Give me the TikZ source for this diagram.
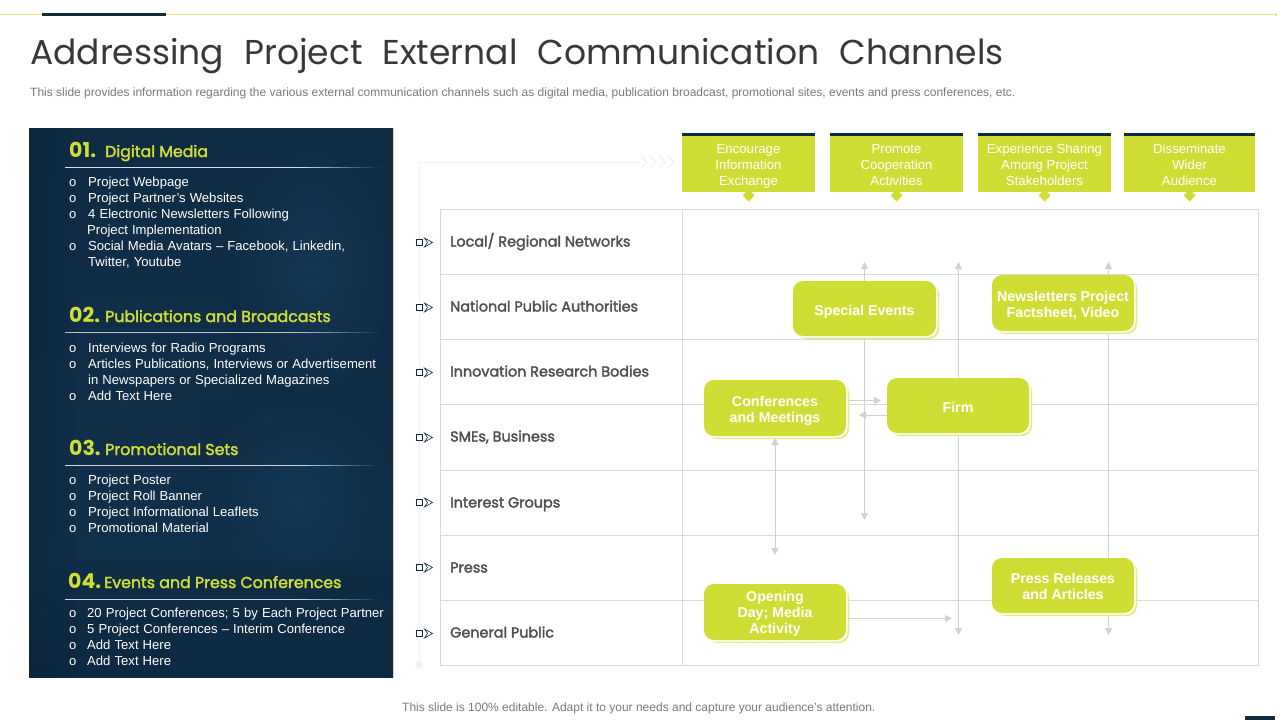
\documentclass[tikz,border=0pt]{standalone}
\usepackage{fontspec}
\setmainfont{Liberation Sans}
\newfontfamily\gothic{Poppins}
\newfontfamily\gothicm[FakeBold=2.2]{Poppins}
\usetikzlibrary{arrows.meta}
\definecolor{lime}{HTML}{D0DD35}
\definecolor{limepale}{HTML}{E6EA85}
\definecolor{navy}{HTML}{0F2B3C}
\definecolor{panelA}{HTML}{11324C}
\definecolor{panelB}{HTML}{0E2C44}
\definecolor{panelC}{HTML}{0A2238}
\definecolor{panelD}{HTML}{1B4160}
\definecolor{gridc}{HTML}{DADADA}
\definecolor{linkc}{HTML}{D2D2D2}
\definecolor{faint}{HTML}{F1F1F1}
\definecolor{labelc}{HTML}{505050}
\newcommand{\bodysp}{\spaceskip 4.1pt\relax}
\newcommand{\titlesp}{\spaceskip 20pt\relax}
\tikzset{
  x=1pt,y=-1pt,
  gridline/.style={draw=gridc,line width=1pt},
  link/.style={draw=linkc,line width=1pt,-{Triangle[length=7pt,width=7pt]}},
  linkboth/.style={draw=linkc,line width=1pt,{Triangle[length=7pt,width=7pt]}-{Triangle[length=7pt,width=7pt]}},
  headbox/.style={fill=lime,text=white,minimum height=57pt,align=center,inner sep=0pt,font=\fontsize{13.2}{16}\selectfont},
  flowbox/.style={fill=lime,text=white,rounded corners=10pt,align=center,inner sep=0pt,font=\fontsize{14.2}{16}\selectfont\bfseries},
  rowlabel/.style={anchor=base west,inner sep=0pt,text=labelc,font=\gothicm\fontsize{14.4}{16}\selectfont},
  bodyline/.style={anchor=base west,inner sep=0pt,text=white,font=\fontsize{13.1}{16}\selectfont\bodysp},
  num/.style={anchor=base west,inner sep=0pt,text=lime,font=\gothic\fontsize{20.5}{24}\selectfont\bfseries},
  sect/.style={anchor=base west,inner sep=0pt,text=lime,font=\gothicm\fontsize{15.8}{18}\selectfont},
}
\newcommand{\bodyrow}[5]{% name, bullet?, x, y, text
  \node[bodyline] (#1) at (#3,#4) {#5};
  \if#2b\node[bodyline,font=\fontsize{13}{14}\selectfont] (#1b) at (69,#4) {o};\fi}
\newcommand{\sepline}[2]{% y, opacity
  \fill[white,opacity=#2] (65,#1-.45) rectangle (300,#1+.45);
  \foreach \k in {0,...,7}{\fill[white,opacity={#2*(1-(\k+.5)/8)}] (300+\k*10,#1-.45) rectangle (310+\k*10,#1+.45);}}
\newcommand{\flowshape}[7]{% name,x0,y0,x1,y1,text,text offset
  \fill[limepale,rounded corners=10pt] (#2+3,#3+3) rectangle (#4+3,#5+3);
  \fill[white,rounded corners=10pt] (#2,#3) rectangle (#4+1.5,#5+1.5);
  \node[flowbox,minimum width=#4pt-#2pt,minimum height=#5pt-#3pt] (#1) at ({(#2+#4)/2},{(#3+#5)/2}) {};
  \node[flowbox,fill=none] (#1t) at ({(#2+#4)/2},{(#3+#5)/2+#7}) {#6};}
\newcommand{\rowmark}[2]{% name,y
  \draw[navy,line width=.8pt,fill=white] (416.5,#2-3) rectangle (422.5,#2+3);
  \draw[navy,line width=.6pt] (424.5,#2-4.5) -- (432.5,#2) -- (424.5,#2+4.5) -- (427.5,#2) -- cycle;
  \coordinate (#1) at (433,#2);}
\begin{document}
\begin{tikzpicture}
\useasboundingbox (0,0) rectangle (1280,720);
\fill[white] (0,0) rectangle (1280,720);
% top rule
\draw[limepale!80!lime,line width=1pt] (0,14.5) -- (1276,14.5);
\fill[navy] (42,13) rectangle (166,15.5);
\fill[limepale!80!lime] (1276,14.5) circle (1.6);
% title
\node[anchor=base west,inner sep=0pt,text=black!78,font=\gothic\fontsize{34.5}{38}\selectfont\titlesp] (title) at (30,64) {Addressing Project External Communication Channels};
\node[anchor=base west,inner sep=0pt,text=black!52,font=\fontsize{12}{14}\selectfont] (sub) at (30,96) {This slide provides information regarding the various external communication channels such as digital media, publication broadcast, promotional sites, events and press conferences, etc.};
% left panel
\shade[top color=panelB,bottom color=panelA] (29,128) rectangle (393,677);
\shade[left color=panelC,right color=panelB,opacity=.45] (29,128) rectangle (75,677);
\shade[inner color=panelD,outer color=panelB,opacity=.5] (230,128) rectangle (393,400);
\shade[inner color=panelD,outer color=panelB,opacity=.45] (200,400) rectangle (393,600);
\shade[top color=panelB,bottom color=panelC,opacity=.5] (29,560) rectangle (393,677);
% section 1
\node[num] (n1) at (69,157) {01.};
\node[sect] (s1) at (105,157) {Digital Media};
\sepline{167}{.85}
\bodyrow{a1}{b}{88}{186}{Project Webpage}
\bodyrow{a2}{b}{88}{202}{Project Partner's Websites}
\bodyrow{a3}{b}{88}{218}{4 Electronic Newsletters Following}
\bodyrow{a4}{n}{87}{234}{Project Implementation}
\bodyrow{a5}{b}{88}{250}{Social Media Avatars – Facebook, Linkedin,}
\bodyrow{a6}{n}{88}{266}{Twitter, Youtube}
% section 2
\node[num] (n2) at (69,322) {02.};
\node[sect] (s2) at (105,322) {Publications and Broadcasts};
\sepline{332}{.7}
\bodyrow{b1}{b}{88}{352}{Interviews for Radio Programs}
\bodyrow{b2}{b}{88}{368}{Articles Publications, Interviews or Advertisement}
\bodyrow{b3}{n}{88}{384}{in Newspapers or Specialized Magazines}
\bodyrow{b4}{b}{88}{400}{Add Text Here}
% section 3
\node[num] (n3) at (69,455) {03.};
\node[sect] (s3) at (105,455) {Promotional Sets};
\sepline{465.5}{.8}
\bodyrow{c1}{b}{88}{484}{Project Poster}
\bodyrow{c2}{b}{88}{500}{Project Roll Banner}
\bodyrow{c3}{b}{88}{516}{Project Informational Leaflets}
\bodyrow{c4}{b}{88}{532}{Promotional Material}
% section 4
\node[num] (n4) at (68,588) {04.};
\node[sect] (s4) at (104,588) {Events and Press Conferences};
\sepline{599}{.8}
\bodyrow{d1}{b}{87}{617}{20 Project Conferences; 5 by Each Project Partner}
\bodyrow{d2}{b}{87}{633}{5 Project Conferences – Interim Conference}
\bodyrow{d3}{b}{87}{649}{Add Text Here}
\bodyrow{d4}{b}{87}{665}{Add Text Here}
% faint guide
\coordinate (gs) at (640,162);
\coordinate (gc) at (419,162);
\coordinate (ge) at (419,665);
\draw[faint,line width=1pt] (gs) -- (gc) -- (ge);
\fill[faint] (ge) circle (4);
\foreach \i in {0,1,2,3}{\draw[faint,line width=1.2pt] (641+\i*9,156) -- (647+\i*9,162) -- (641+\i*9,168);}
% grid
\draw[gridline] (440.5,209.5) rectangle (1258.5,665);
\draw[gridline] (682.5,209.5) -- (682.5,665);
\foreach \y in {274.5,339.5,404.5,470,535,600}{\draw[gridline] (440.5,\y) -- (1258.5,\y);}
% row labels
\node[rowlabel] (r1) at (450,246.5) {Local/ Regional Networks};
\node[rowlabel] (r2) at (450,311.5) {National Public Authorities};
\node[rowlabel] (r3) at (450,376.5) {Innovation Research Bodies};
\node[rowlabel] (r4) at (450,441.5) {SMEs, Business};
\node[rowlabel] (r5) at (450,507.5) {Interest Groups};
\node[rowlabel] (r6) at (450,572.5) {Press};
\node[rowlabel] (r7) at (450,637.5) {General Public};
\rowmark{m1}{242.5}
\rowmark{m2}{307.5}
\rowmark{m3}{372.5}
\rowmark{m4}{437.5}
\rowmark{m5}{502.5}
\rowmark{m6}{567.5}
\rowmark{m7}{633.5}
% header boxes
\foreach \nm/\a/\b/\t in {h1/682/815/{\strut Encourage\\\strut Information\\\strut Exchange},h2/830/963/{\strut Promote\\\strut Cooperation\\\strut Activities},h3/978/1111/{\strut Experience Sharing\\\strut Among Project\\\strut Stakeholders},h4/1124/1255/{\strut Disseminate\\\strut Wider\\\strut Audience}}{
  \fill[lime] ({(\a+\b)/2-6},195.5) -- ({(\a+\b)/2},201.5) -- ({(\a+\b)/2+6},195.5) -- ({(\a+\b)/2},189.5) -- cycle;
  \node[headbox,minimum width=\b pt-\a pt,anchor=north west] (\nm) at (\a,135) {};
  \node[headbox,fill=none,minimum height=0pt] (\nm t) at ({(\a+\b)/2},165.8) {\t};
  \fill[navy] (\a,133) rectangle (\b,136);
}
% connector ends
\coordinate (se1) at (864.5,262);
\coordinate (se2) at (864.5,520);
\coordinate (fi1) at (958.5,262);
\coordinate (fi2) at (958.5,635);
\coordinate (nw1) at (1108.5,262);
\coordinate (nw2) at (1108.5,635);
\coordinate (cm1) at (775,438);
\coordinate (cm2) at (775,555);
\coordinate (cf1) at (847,400.5);
\coordinate (cf2) at (881,400.5);
\coordinate (fc1) at (887,415);
\coordinate (fc2) at (859,415);
\coordinate (op1) at (847,618.5);
\coordinate (op2) at (952,618.5);
\draw[linkboth] (se1) -- (se2);
\draw[linkboth] (fi1) -- (fi2);
\draw[linkboth] (nw1) -- (nw2);
\draw[linkboth] (cm1) -- (cm2);
\draw[link] (cf1) -- (cf2);
\draw[link] (fc1) -- (fc2);
\draw[link] (op1) -- (op2);
% flow boxes
\flowshape{fb1}{793}{281}{936}{336}{\strut Special Events}{3.3}
\flowshape{fb2}{992}{275}{1134}{331}{\strut Newsletters Project\\\strut Factsheet, Video}{2.8}
\flowshape{fb3}{704}{380}{846}{436}{\strut Conferences\\\strut and Meetings}{2.8}
\flowshape{fb4}{887}{378}{1029}{433}{\strut Firm}{3.3}
\flowshape{fb5}{704}{584}{846}{640}{\strut Opening\\\strut Day; Media\\\strut Activity}{2}
\flowshape{fb6}{992}{558}{1134}{613}{\strut Press Releases\\\strut and Articles}{2.3}
% footer
\node[anchor=base west,inner sep=0pt,text=black!52,font=\fontsize{12}{14}\selectfont] (foot) at (402,711) {This slide is 100\% editable. Adapt it to your needs and capture your audience's attention.};
\fill[navy] (1245,716) rectangle (1275,720);
\end{tikzpicture}
\end{document}
